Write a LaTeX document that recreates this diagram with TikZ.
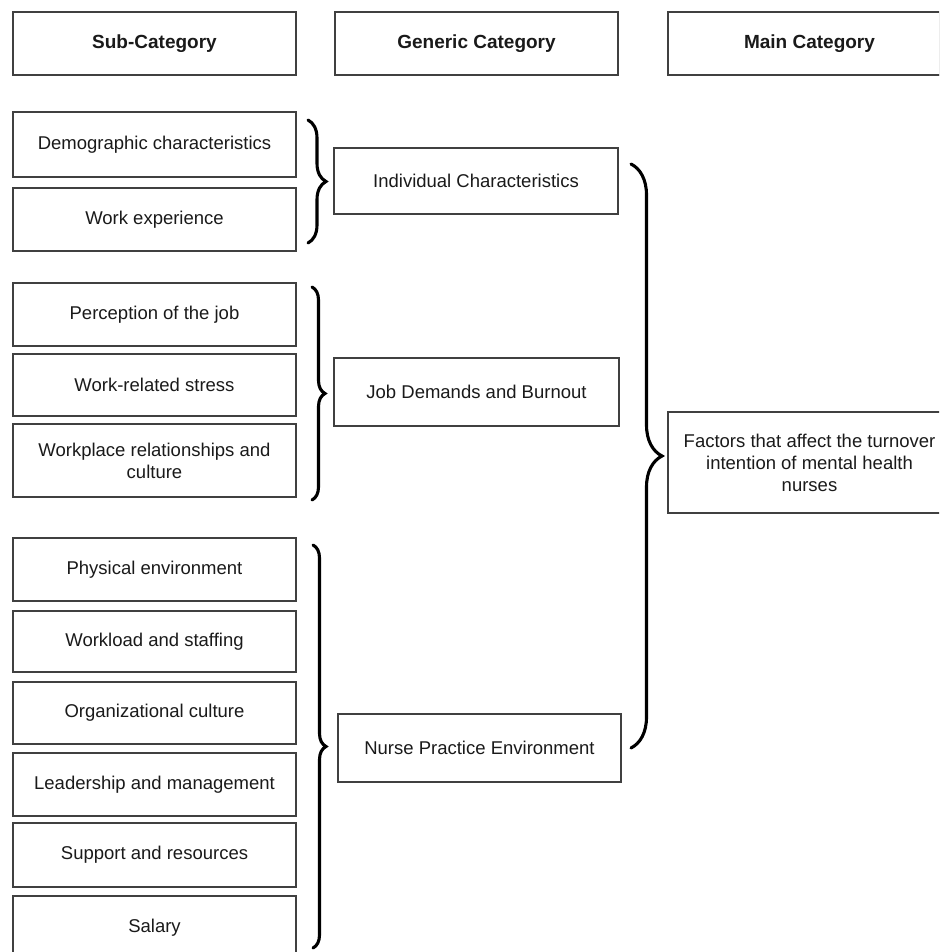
\documentclass[tikz,border=0pt]{standalone}
\usepackage{fontspec}
\setmainfont{Liberation Sans}
\usetikzlibrary{decorations.pathreplacing,shadows}
\definecolor{boxline}{HTML}{404040}
\definecolor{txt}{HTML}{1A1A1A}
\begin{document}
\begin{tikzpicture}[x=1pt,y=-1pt,
  box/.style={draw=boxline, line width=1.1pt, fill=white, text=txt,
    font=\fontsize{18.5}{22}\selectfont, align=center, inner sep=0pt,
    minimum width=283pt},
  hdr/.style={box, font=\fontsize{19}{22}\selectfont\bfseries,
    drop shadow={shadow xshift=0.8pt, shadow yshift=-1.4pt, fill=black!65, opacity=1}},
  brc/.style={draw=black, decorate, decoration={brace, amplitude=#1}, line width=3.1pt, line cap=round}]
\clip (0,0) rectangle (939,952);
\fill[white] (0,0) rectangle (939,952);
% headers
\node[hdr, minimum height=63pt] (hsub) at (154.5,43.5) {Sub-Category};
\node[hdr, minimum height=63pt] (hgen) at (476.5,43.5) {Generic Category};
\node[hdr, minimum height=63pt] (hmain) at (809.5,43.5) {Main Category};
% sub-categories
\node[box, minimum height=65pt] (demo) at (154.5,144.5) {Demographic characteristics};
\node[box, minimum height=63pt] (wexp) at (154.5,219.5) {Work experience};
\node[box, minimum height=63pt] (perc) at (154.5,314.5) {Perception of the job};
\node[box, minimum height=62pt] (stress) at (154.5,385) {Work-related stress};
\node[box, minimum height=73pt] (wrel) at (154.5,460.5) {Workplace relationships and\\culture};
\node[box, minimum height=63pt] (phys) at (154.5,569.5) {Physical environment};
\node[box, minimum height=61pt] (wload) at (154.5,641.5) {Workload and staffing};
\node[box, minimum height=62pt] (org) at (154.5,713) {Organizational culture};
\node[box, minimum height=63pt] (lead) at (154.5,784.5) {Leadership and management};
\node[box, minimum height=64pt] (supp) at (154.5,855) {Support and resources};
\node[box, minimum height=63pt] (sal) at (154.5,927.5) {Salary};
% generic categories
\node[box, minimum width=284pt, minimum height=66pt] (indiv) at (476,181) {Individual Characteristics};
\node[box, minimum width=285pt, minimum height=68pt] (jobd) at (476.5,392) {Job Demands and Burnout};
\node[box, minimum width=283pt, minimum height=68pt] (nurse) at (479.5,748) {Nurse Practice Environment};
% main category
\node[box, minimum height=101pt] (main) at (809.5,462.5) {Factors that affect the turnover\\intention of mental health\\nurses};
% braces
\coordinate (b1t) at (308,120); \coordinate (b1b) at (308,243);
\coordinate (b2t) at (312,287); \coordinate (b2b) at (312,500);
\coordinate (b3t) at (313,545); \coordinate (b3b) at (313,948);
\coordinate (b4t) at (631,164); \coordinate (b4b) at (631,748);
\draw[brc=18] (b1t) -- (b1b);
\draw[brc=13] (b2t) -- (b2b);
\draw[brc=13] (b3t) -- (b3b);
\draw[brc=31] (b4t) -- (b4b);
\end{tikzpicture}
\end{document}
